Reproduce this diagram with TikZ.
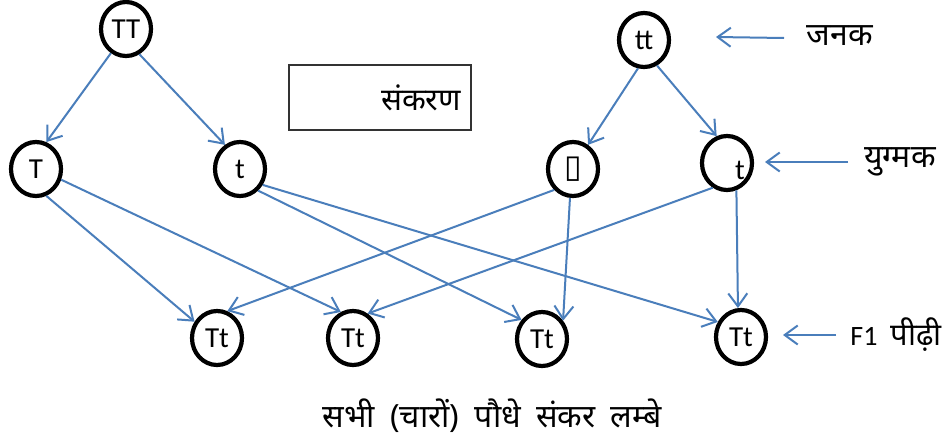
\documentclass[tikz,border=0pt]{standalone}
\usepackage{fontspec}
\setmainfont{Carlito}
\newfontfamily\dev[Script=Devanagari]{Noto Sans}
\newfontfamily\dejavu{DejaVu Sans}
\usetikzlibrary{arrows.meta,shapes.geometric}
\definecolor{arr}{RGB}{74,126,187}
\begin{document}
\begin{tikzpicture}[x=1pt,y=-1pt,
  gene/.style={ellipse,draw=black,line width=4.2pt,minimum width=50pt,minimum height=54pt,inner sep=0pt,font=\fontsize{29}{31}\selectfont},
  conn/.style={draw=arr,line width=2pt,-{Straight Barb[length=13pt,width=19pt,line width=2pt]}},
  lbl/.style={font=\dev\fontsize{32}{36}\selectfont,inner sep=0pt},
]
\useasboundingbox[fill=white] (0,0) rectangle (948,439);
% parents
\node[gene] (TT) at (126,29) {TT};
\node[gene] (tt) at (644,40) {tt};
% gametes
\node[gene] (T) at (36,169) {T};
\node[gene] (t) at (240,169) {t};
\node[gene] (bx) at (573,169) {\dejavu\fontsize{32}{34}\selectfont ▯};
\node[gene,label={[xshift=13pt,yshift=-7pt,font=\fontsize{29}{31}\selectfont]center:t}] (tR) at (727,163) {};
% F1
\node[gene] (F1) at (217,338) {Tt};
\node[gene] (F2) at (353,338) {Tt};
\node[gene] (F3) at (542,339) {Tt};
\node[gene] (F4) at (741,337) {Tt};
% cross box
\node[draw=black!80,line width=1.2pt,minimum width=182pt,minimum height=65pt,inner sep=0pt,
  label={[xshift=41pt,font=\dev\fontsize{31}{34}\selectfont]center:संकरण}] (cross) at (380,97.5) {};
% side labels
\node[lbl] (janak) at (840,36) {जनक};
\node[lbl] (yug) at (900,162) {युग्मक};
\node[lbl,font=\fontsize{28}{30}\selectfont] (gen) at (896,335) {F1\hspace{13pt}{\dev\fontsize{31}{34}\selectfont पीढ़ी}};
\node[lbl] (all) at (492,416) {सभी\hspace{7pt} (चारों)\hspace{7pt} पौधे\hspace{7pt} संकर\hspace{7pt} लम्बे};
\coordinate (ja) at (784,38);
\coordinate (jb) at (716,37);
\coordinate (ya) at (848,162);
\coordinate (yb) at (765,162);
\coordinate (fa) at (836,335);
\coordinate (fb) at (783,335);
\draw[conn] (ja) -- (jb);
\draw[conn] (ya) -- (yb);
\draw[conn] (fa) -- (fb);
% parent to gametes
\draw[conn] (TT.-122) -- (T.69);
\draw[conn] (TT.-62) -- (t.122);
\draw[conn] (tt.-102) -- (bx.58);
\draw[conn] (tt.-63) -- (tR.111);
% gametes to F1
\draw[conn] (T.-69) -- (F1.144);
\draw[conn] (T.-23) -- (F2.115);
\draw[conn] (t.-50) -- (F3.137);
\draw[conn] (t.-35) -- (F4.147);
\draw[conn] (bx.-132) -- (F1.69);
\draw[conn] (bx.-96) -- (F3.41);
\draw[conn] (tR.-120) -- (F2.59);
\draw[conn] (tR.-71) -- (F4.96);
\end{tikzpicture}
\end{document}
